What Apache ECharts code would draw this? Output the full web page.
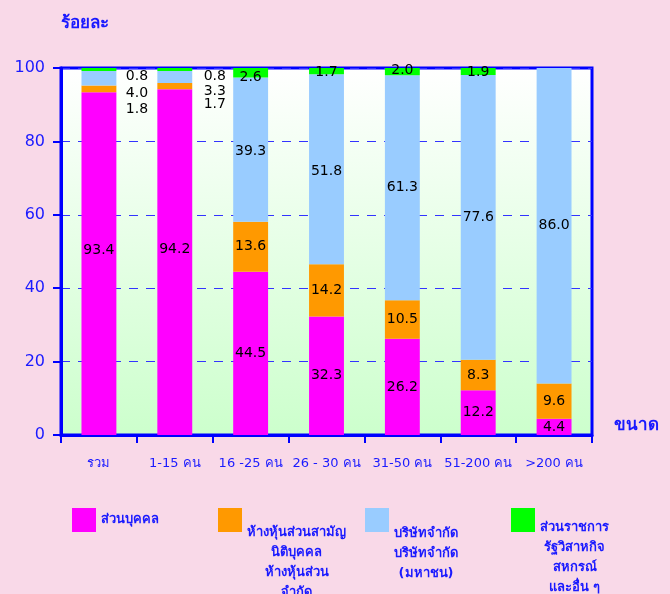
<!DOCTYPE html>
<html>
<head>
<meta charset="utf-8">
<script src="https://cdn.jsdelivr.net/npm/echarts@6/dist/echarts.min.js"></script>
<style>
html,body{margin:0;padding:0;background:#f9d9e8;}
#c{width:670px;height:594px;}
</style>
</head>
<body>
<div id="c"></div>
<script>
var categories = ['รวม', '1-15 คน', '16 -25 คน', '26 - 30 คน', '31-50 คน', '51-200 คน', '>200 คน'];
var individual = [93.4, 94.2, 44.5, 32.3, 26.2, 12.2, 4.4];
var partnership = [1.8, 1.7, 13.6, 14.2, 10.5, 8.3, 9.6];
var company = [4.0, 3.3, 39.3, 51.8, 61.3, 77.6, 86.0];
var government = [0.8, 0.8, 2.6, 1.7, 2.0, 1.9, 0];
var yTicks = [0, 20, 40, 60, 80, 100];

var seriesNames = ['ส่วนบุคคล', 'ห้างหุ้นส่วนสามัญ', 'บริษัทจำกัด', 'ส่วนราชการ'];
var legendLines = [
  ['ส่วนบุคคล'],
  ['ห้างหุ้นส่วนสามัญ', 'นิติบุคคล', 'ห้างหุ้นส่วน', 'จำกัด'],
  ['บริษัทจำกัด', 'บริษัทจำกัด', '(มหาชน)'],
  ['ส่วนราชการ', 'รัฐวิสาหกิจ', 'สหกรณ์', 'และอื่น ๆ']
];
var colors = ['#ff00ff', '#ff9900', '#99ccff', '#00ff00'];

var BLUE = '#1a1aff';
var FONT = 'DejaVu Sans, Noto Sans, sans-serif';

// label offsets (style only)
var offsets = [
  [[0, -13], [0, -13], [0, 0], [0, 0], [0, 0], [0, 0], [0, 0]],
  [[38, 20], [40, 18], [0, 0], [0, 0], [0, 0], [0, 0], [0, 0]],
  [[38, 15], [40, 14], [0, 2], [0, 2], [0, 0], [0, 0], [0, 0]],
  [[38, 7], [40, 7], [0, 5], [0, 1], [0, -1], [0, 1], [0, 0]]
];

function mk(vals, idx) {
  return vals.map(function (v, i) {
    return {
      value: v,
      label: { offset: offsets[idx][i] }
    };
  });
}

var allData = [individual, partnership, company, government];
var series = allData.map(function (vals, idx) {
  return {
    name: seriesNames[idx],
    type: 'bar',
    stack: 'total',
    barWidth: '46%',
    itemStyle: { color: colors[idx] },
    label: {
      show: true,
      position: 'inside',
      color: '#000',
      fontSize: 14,
      fontFamily: FONT,
      formatter: function (p) { return p.value ? p.value.toFixed(1) : ''; }
    },
    data: mk(vals, idx)
  };
});

var legendPos = [
  { left: 72, pad: 0 },
  { left: 218, pad: 86 },
  { left: 365, pad: 68 },
  { left: 511, pad: 76 }
];
var legends = legendPos.map(function (lp, idx) {
  var lines = legendLines[idx];
  var rich = { a: { align: 'center', color: BLUE, fontSize: 13, fontWeight: 'bold', fontFamily: FONT, lineHeight: 20 } };
  return {
    data: [seriesNames[idx]],
    left: lp.left,
    top: 508,
    padding: 0,
    itemWidth: 24,
    itemHeight: 24,
    icon: 'rect',
    selectedMode: false,
    textStyle: {
      color: BLUE,
      fontSize: 13,
      fontWeight: 'bold',
      fontFamily: FONT,
      padding: [lp.pad, 0, 0, 0],
      rich: rich
    },
    formatter: function () {
      return lines.map(function (l) { return '{a|' + l + '}'; }).join('\n');
    }
  };
});

var chart = echarts.init(document.getElementById('c'));
chart.setOption({
  backgroundColor: '#f9d9e8',
  animation: false,
  legend: legends,
  grid: {
    left: 61, right: 78, top: 68, bottom: 159,
    show: true,
    borderColor: '#0000ff',
    borderWidth: 3,
    backgroundColor: new echarts.graphic.LinearGradient(0, 0, 0, 1, [
      { offset: 0, color: '#ffffff' },
      { offset: 1, color: '#ccffcc' }
    ])
  },
  xAxis: {
    type: 'category',
    data: categories,
    name: 'ขนาด',
    nameLocation: 'end',
    nameGap: 22,
    nameTextStyle: { color: BLUE, fontSize: 17, fontWeight: 'bold', fontFamily: FONT, align: 'left', verticalAlign: 'bottom', padding: [0, 0, 1, 0] },
    axisLine: { lineStyle: { color: '#0000ff', width: 3 } },
    axisTick: { show: true, length: 8, lineStyle: { color: '#0000ff', width: 2 } },
    axisLabel: { color: BLUE, fontSize: 13, fontFamily: FONT, margin: 22, interval: 0 }
  },
  yAxis: {
    type: 'value',
    min: yTicks[0],
    max: yTicks[yTicks.length - 1],
    interval: 20,
    name: 'ร้อยละ',
    nameLocation: 'end',
    nameGap: 36,
    nameTextStyle: { color: BLUE, fontSize: 17, fontWeight: 'bold', fontFamily: FONT, align: 'left' },
    axisLine: { show: true, lineStyle: { color: '#0000ff', width: 3 } },
    axisTick: { show: true, length: 8, lineStyle: { color: '#0000ff', width: 2 } },
    axisLabel: { color: BLUE, fontSize: 16, fontFamily: FONT, margin: 16 },
    splitLine: { show: true, lineStyle: { color: '#3333ff', width: 1, type: [9, 8] } }
  },
  series: series
});
</script>
</body>
</html>
